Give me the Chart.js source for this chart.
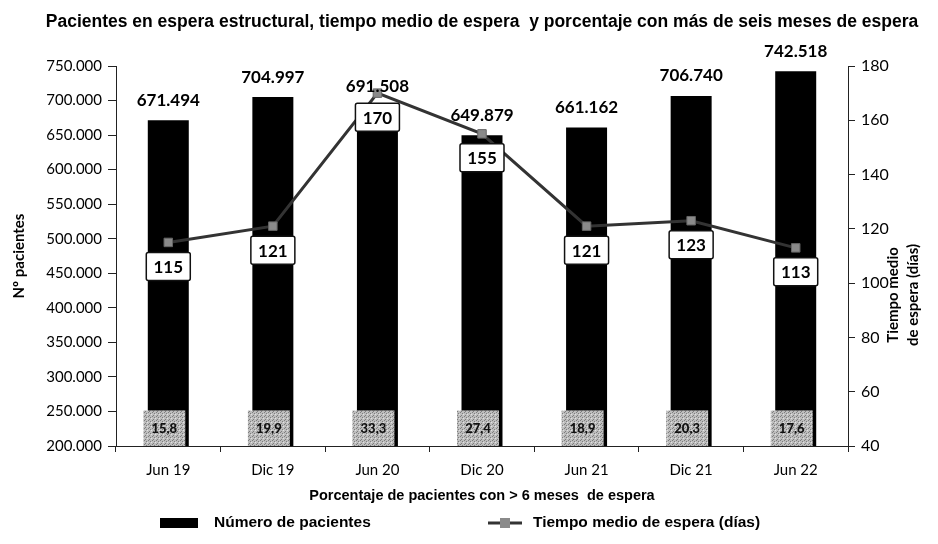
<!DOCTYPE html>
<html>
<head>
<meta charset="utf-8">
<script src="https://cdn.jsdelivr.net/npm/chart.js@4"></script>
<style>
  html, body { margin: 0; padding: 0; background: #fff; }
  #contenedor { width: 938px; height: 544px; }
</style>
</head>
<body>
<div id="contenedor"><canvas id="grafico" width="938" height="544"></canvas></div>
<script>
// Datos del gráfico
const periodos = ['Jun 19', 'Dic 19', 'Jun 20', 'Dic 20', 'Jun 21', 'Dic 21', 'Jun 22'];
const numeroPacientes = [671494, 704997, 691508, 649879, 661162, 706740, 742518];
const tiempoMedio = [115, 121, 170, 155, 121, 123, 113];
const porcentajeSeisMeses = ['15,8', '19,9', '33,3', '27,4', '18,9', '20,3', '17,6'];

const titulo = 'Pacientes en espera estructural, tiempo medio de espera  y porcentaje con más de seis meses de espera';
const fuenteArial = "'Liberation Sans', Arial, sans-serif";
const fuenteLato = "Lato, 'Open Sans', sans-serif";

// Formato con punto de miles
function formatoMiles(v) {
    return String(v).replace(/\B(?=(\d{3})+(?!\d))/g, '.');
}

// Textura gris punteada para las cajas del porcentaje
function texturaGris(ctx) {
    const c = document.createElement('canvas');
    c.width = 4; c.height = 4;
    const p = c.getContext('2d');
    p.fillStyle = '#bdbdbd';
    p.fillRect(0, 0, 4, 4);
    p.fillStyle = '#7e7e7e';
    p.fillRect(0, 0, 1, 1);
    p.fillRect(2, 1, 1, 1);
    p.fillRect(1, 3, 1, 1);
    p.fillStyle = '#e2e2e2';
    p.fillRect(3, 2, 1, 1);
    return ctx.createPattern(c, 'repeat');
}

// Plugin para etiquetas, cajas, títulos y leyenda
const etiquetas = {
    id: 'etiquetas',
    afterDatasetsDraw(chart) {
        const ctx = chart.ctx;
        const x = chart.scales.x;
        const y = chart.scales.y;
        const barras = chart.getDatasetMeta(0).data;
        const puntos = chart.getDatasetMeta(1).data;

        ctx.save();

        // Cajas grises con el porcentaje > 6 meses
        const gris = texturaGris(ctx);
        const yArriba = y.getPixelForValue(250000) - 1;
        const yAbajo = y.getPixelForValue(200000);
        porcentajeSeisMeses.forEach((txt, i) => {
            const xc = x.getPixelForValue(i);
            ctx.fillStyle = gris;
            ctx.fillRect(xc - 25, yArriba, 42, yAbajo - yArriba);
            ctx.fillStyle = '#111';
            ctx.font = "900 13px " + fuenteLato;
            ctx.textAlign = 'center';
            ctx.textBaseline = 'middle';
            ctx.fillText(txt, xc - 4, (yArriba + yAbajo) / 2 + 1);
        });

        // Valores sobre las barras
        ctx.fillStyle = '#000';
        ctx.font = "bold 17px " + fuenteLato;
        ctx.textAlign = 'center';
        ctx.textBaseline = 'middle';
        barras.forEach((b, i) => {
            ctx.fillText(formatoMiles(numeroPacientes[i]), b.x, b.y - 20);
        });

        // Cajas blancas con el tiempo medio
        puntos.forEach((p, i) => {
            const w = 44, h = 28;
            const bx = p.x - w / 2, by = p.y + 10;
            ctx.beginPath();
            ctx.roundRect(bx, by, w, h, 2);
            ctx.fillStyle = '#fff';
            ctx.fill();
            ctx.lineWidth = 1.5;
            ctx.strokeStyle = '#111';
            ctx.stroke();
            ctx.fillStyle = '#000';
            ctx.font = "bold 17px " + fuenteLato;
            ctx.fillText(String(tiempoMedio[i]), p.x, by + h / 2 + 1);
        });

        ctx.restore();
    },
    afterDraw(chart) {
        const ctx = chart.ctx;

        // Título principal
        ctx.save();
        ctx.fillStyle = '#000';
        ctx.font = "bold 17.5px " + fuenteArial;
        ctx.textAlign = 'center';
        ctx.textBaseline = 'middle';
        ctx.fillText(titulo, 482, 22);
        ctx.restore();

        // Título del eje derecho (girado hacia arriba)
        ctx.save();
        ctx.translate(903, 295);
        ctx.rotate(-Math.PI / 2);
        ctx.fillStyle = '#000';
        ctx.font = "bold 15px " + fuenteLato;
        ctx.textAlign = 'center';
        ctx.textBaseline = 'middle';
        ctx.fillText('Tiempo medio', 0, -10);
        ctx.fillText('de espera (días)', 0, 10);
        ctx.restore();

        // Leyenda
        ctx.save();
        const yl = 523;
        ctx.fillStyle = '#000';
        ctx.fillRect(160, yl - 5, 38, 10);
        ctx.font = "bold 15.5px " + fuenteArial;
        ctx.textAlign = 'left';
        ctx.textBaseline = 'middle';
        ctx.fillText('Número de pacientes', 214, yl);

        ctx.strokeStyle = '#333';
        ctx.lineWidth = 3;
        ctx.beginPath();
        ctx.moveTo(488, yl);
        ctx.lineTo(522, yl);
        ctx.stroke();
        ctx.fillStyle = '#8a8a8a';
        ctx.fillRect(500, yl - 5, 10, 10);
        ctx.fillStyle = '#000';
        ctx.fillText('Tiempo medio de espera (días)', 533, yl);
        ctx.restore();
    }
};

const ctx = document.getElementById('grafico').getContext('2d');

const chart = new Chart(ctx, {
    type: 'bar',
    data: {
        labels: periodos,
        datasets: [{
            type: 'bar',
            label: 'Número de pacientes',
            data: numeroPacientes,
            yAxisID: 'y',
            backgroundColor: '#000',
            borderWidth: 0,
            categoryPercentage: 0.8,
            barPercentage: 0.49,
            order: 2
        }, {
            type: 'line',
            label: 'Tiempo medio de espera (días)',
            data: tiempoMedio,
            yAxisID: 'y1',
            borderColor: '#333',
            borderWidth: 3,
            pointStyle: 'rect',
            pointRadius: 6,
            pointBackgroundColor: '#8a8a8a',
            pointBorderColor: '#666',
            pointBorderWidth: 1,
            tension: 0,
            order: 1
        }]
    },
    options: {
        responsive: false,
        animation: false,
        layout: {
            padding: { left: 0, right: 0, top: 66, bottom: 39 }
        },
        plugins: {
            legend: { display: false },
            tooltip: { enabled: false },
            title: { display: false }
        },
        scales: {
            x: {
                afterFit(scale) { scale.height = 59; },
                grid: {
                    display: true,
                    drawOnChartArea: false,
                    tickLength: 6,
                    color: '#222'
                },
                border: { color: '#222', width: 1 },
                ticks: {
                    color: '#000',
                    padding: 9,
                    font: { family: fuenteLato, size: 15 }
                },
                title: {
                    display: true,
                    text: 'Porcentaje de pacientes con > 6 meses  de espera',
                    color: '#000',
                    font: { family: fuenteArial, size: 14.5, weight: 'bold' },
                    padding: { top: 2, bottom: 0 }
                }
            },
            y: {
                position: 'left',
                min: 200000,
                max: 750000,
                afterFit(scale) { scale.width = 116; },
                grid: {
                    display: true,
                    drawOnChartArea: false,
                    tickLength: 8,
                    color: '#222'
                },
                border: { color: '#222', width: 1 },
                ticks: {
                    stepSize: 50000,
                    color: '#000',
                    padding: 6,
                    font: { family: fuenteLato, size: 15 },
                    callback: (v) => formatoMiles(v)
                },
                title: {
                    display: true,
                    text: 'Nº pacientes',
                    color: '#000',
                    font: { family: fuenteLato, size: 15, weight: 'bold' },
                    padding: { top: 10, bottom: 0 }
                }
            },
            y1: {
                position: 'right',
                min: 40,
                max: 180,
                afterFit(scale) { scale.width = 90; },
                grid: {
                    display: true,
                    drawOnChartArea: false,
                    tickLength: 7,
                    color: '#222'
                },
                border: { color: '#222', width: 1 },
                ticks: {
                    stepSize: 20,
                    color: '#000',
                    padding: 6,
                    font: { family: fuenteLato, size: 16 }
                }
            }
        }
    },
    plugins: [etiquetas]
});
</script>
</body>
</html>
